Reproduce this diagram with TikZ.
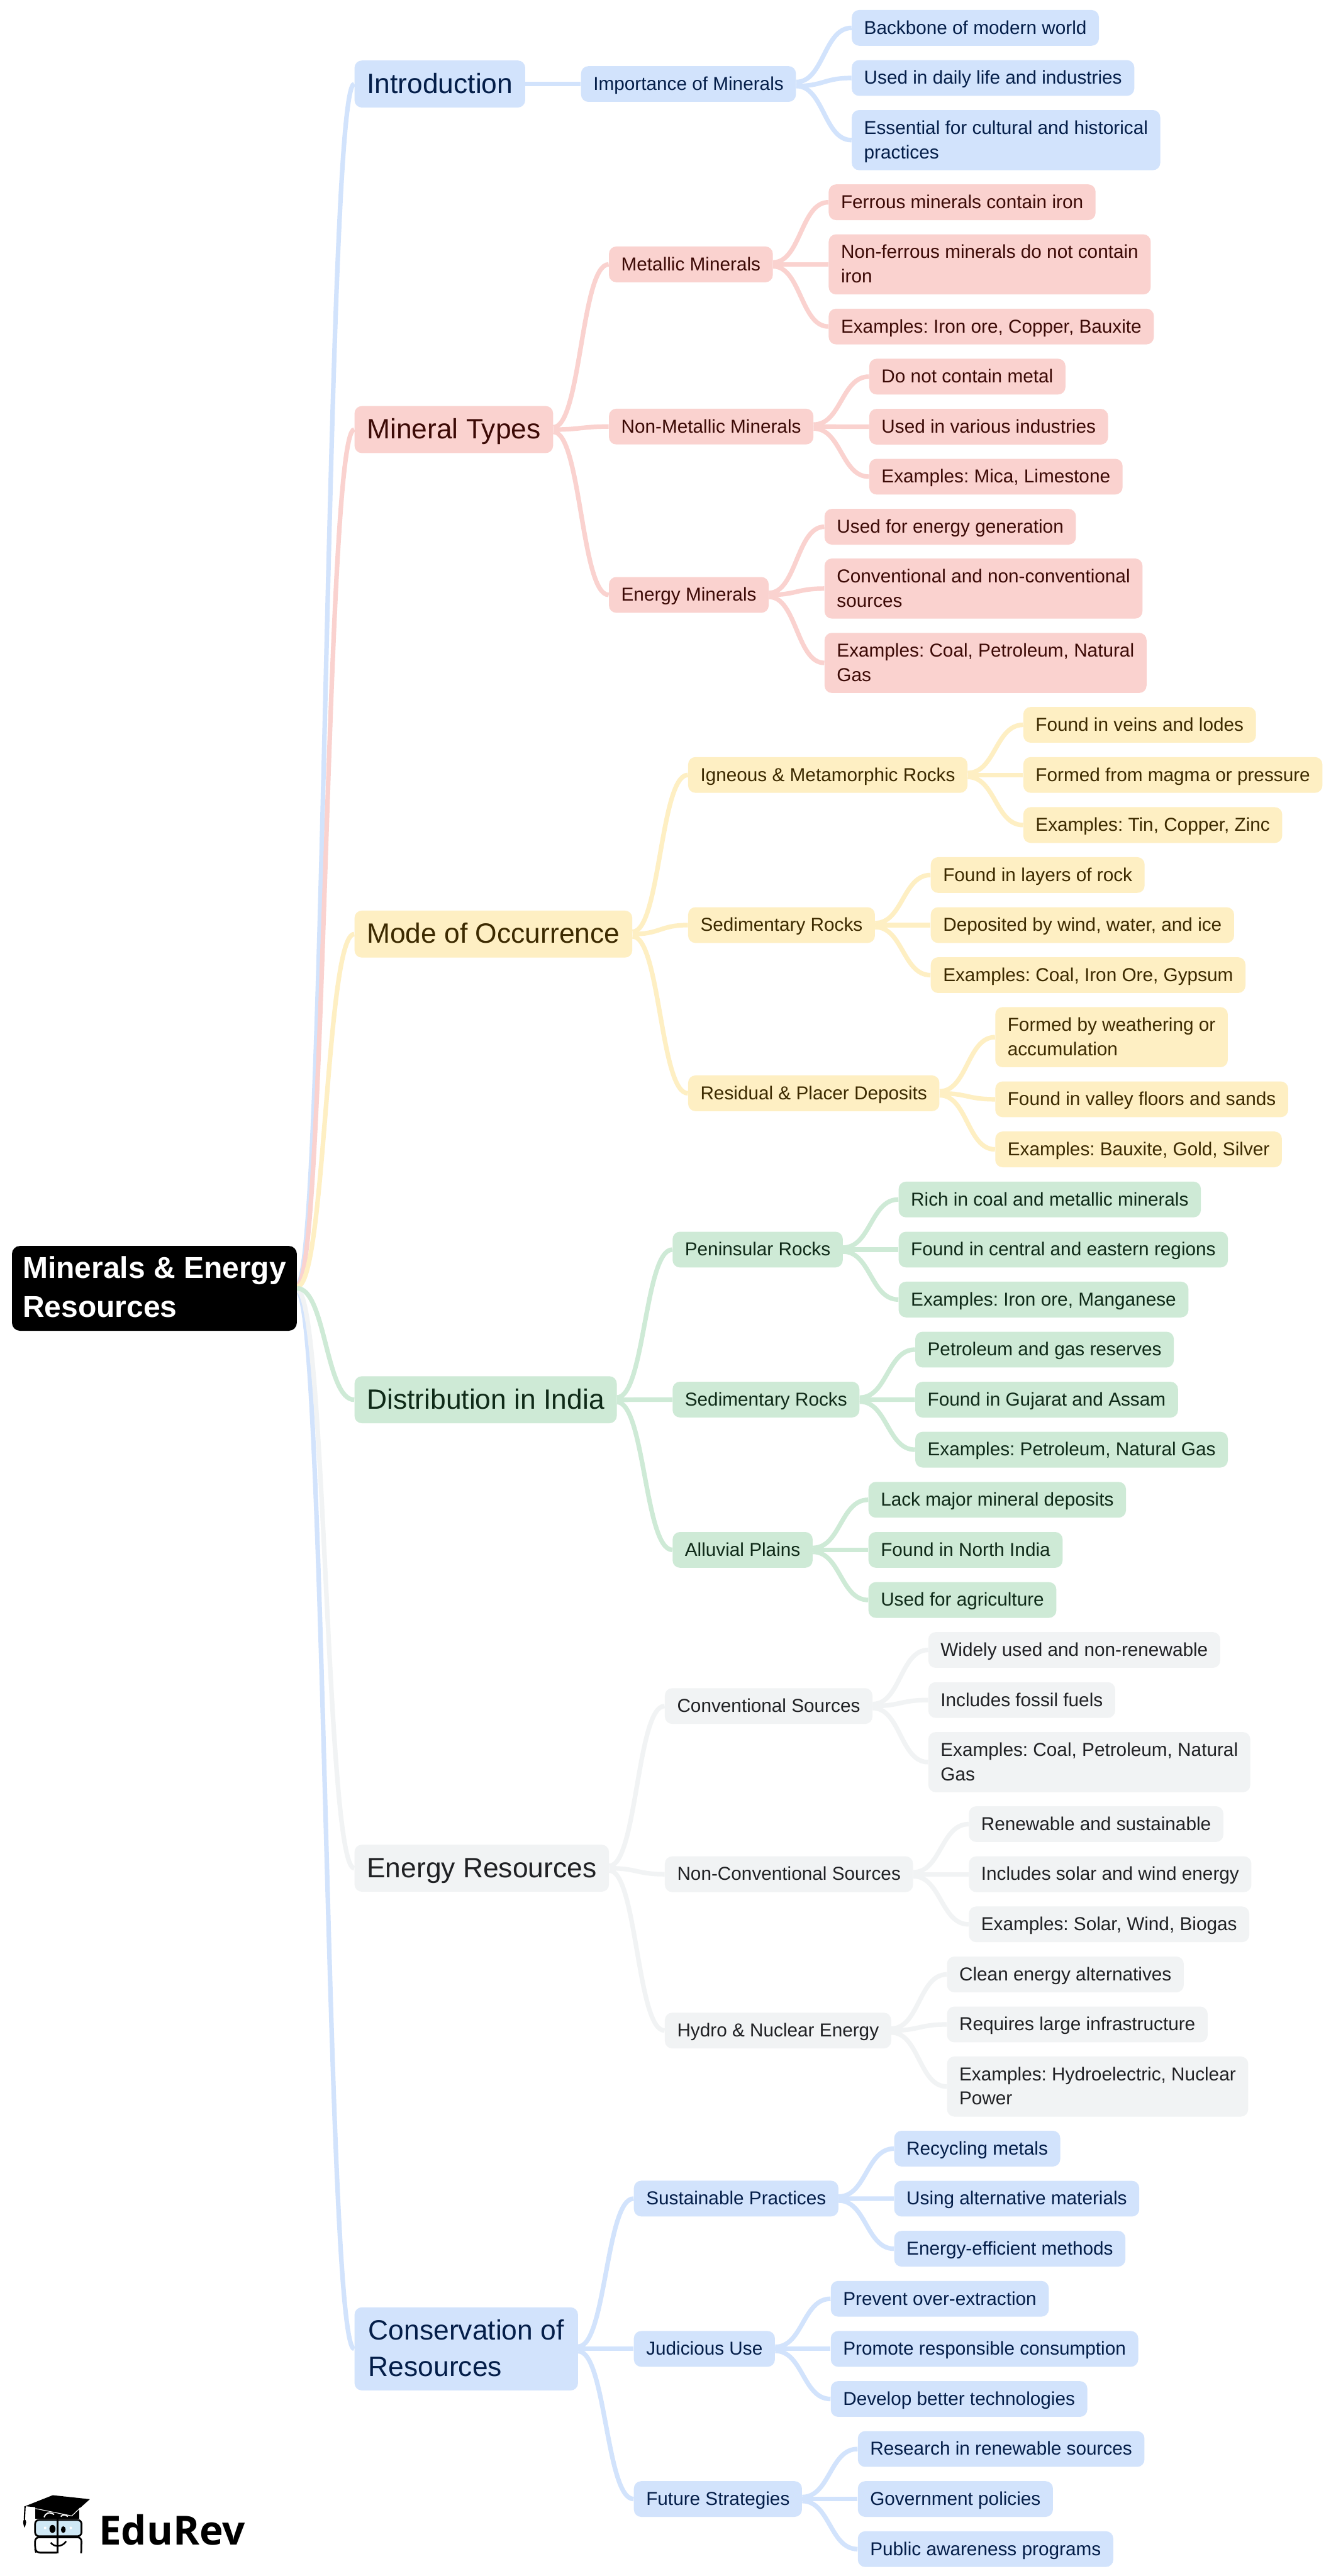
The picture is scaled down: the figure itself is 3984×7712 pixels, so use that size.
\documentclass[tikz,border=0pt]{standalone}
\usepackage{fontspec}
\setmainfont{Liberation Sans}
\newfontfamily\logofont{Open Sans}
\usetikzlibrary{calc,backgrounds}
\frenchspacing
\definecolor{fblue}{HTML}{D2E3FC}\definecolor{tblue}{HTML}{041E49}
\definecolor{fred}{HTML}{FAD2CF}\definecolor{tred}{HTML}{3C0A06}
\definecolor{fyellow}{HTML}{FEEFC3}\definecolor{tyellow}{HTML}{3C2A00}
\definecolor{fgreen}{HTML}{CEEAD6}\definecolor{tgreen}{HTML}{0F2A18}
\definecolor{fgrey}{HTML}{F1F3F4}\definecolor{tgrey}{HTML}{202124}
\definecolor{lens}{HTML}{CFE8F5}
\newcommand{\sS}{\rule[-4.5pt]{0pt}{18.25pt}}
\newcommand{\sT}{\rule[-6.6pt]{0pt}{27pt}}
\newcommand{\sR}{\rule[-7.4pt]{0pt}{29.25pt}}
\tikzset{
  nodebox/.style={rectangle,rounded corners=5.5pt,align=left,anchor=west},
  smallbox/.style={nodebox,inner xsep=9.2pt,inner ysep=4.25pt,font=\fontsize{14}{18.25}\selectfont\frenchspacing},
  topicbox/.style={nodebox,inner xsep=9.25pt,inner ysep=4.1pt,font=\fontsize{20.9}{27}\selectfont\frenchspacing},
  widetopic/.style={topicbox,minimum width=167.25pt},
  rootbox/.style={nodebox,rounded corners=6pt,fill=black,text=white,inner xsep=8pt,inner ysep=2.5pt,font=\fontsize{22.6}{29.25}\selectfont\bfseries\frenchspacing},
  branch/.style={line width=3.4pt}
}
\newcommand{\gapx}{41.4pt}
% style, colour, name, parent, y, start offset, text
\newcommand{\kid}[7]{%
  \path (#4.east) ++(\gapx,0) coordinate (tx-#3);
  \path (0,#5) coordinate (ty-#3);
  \node[#1,fill=f#2,text=t#2] (#3) at (tx-#3 |- ty-#3) {#7};
  \begin{pgfonlayer}{background}
  \draw[branch,draw=f#2] let \p1=(#4.east), \p2=(#3.west) in
    (\x1,{\y1-(#6)*0.25pt}) .. controls ({(\x1+\x2)/2},{\y1-(#6)*0.25pt}) and ({(\x1+\x2)/2},\y2) .. (\x2,\y2);
  \end{pgfonlayer}%
}
\newcommand{\leafnd}[6]{\kid{smallbox}{#1}{#2}{#3}{#4}{#5}{\sS #6}}
\begin{document}
\begin{tikzpicture}[x=0.25pt,y=-0.25pt]
\useasboundingbox (0,0) rectangle (3984,7712);
\begin{pgfonlayer}{background}
\fill[white] (0,0) rectangle (3984,7712);
\end{pgfonlayer}
\node[rootbox] (root) at (35,3857) {\sR Minerals \& Energy\\\sR Resources};
\renewcommand{\gapx}{42.75pt}
\kid{topicbox}{blue}{intro}{root}{251.5}{-12}{\sT Introduction}
\kid{topicbox}{red}{mintypes}{root}{1286}{-9}{\sT Mineral Types}
\kid{topicbox}{yellow}{mode}{root}{2796.5}{-5}{\sT Mode of Occurrence}
\kid{widetopic}{blue}{cons}{root}{7032}{9}{\sT Conservation of\\\sT Resources}
\kid{topicbox}{grey}{energy}{root}{5593}{6}{\sT Energy Resources}
\kid{topicbox}{green}{dist}{root}{4190.5}{0}{\sT Distribution in India}
\renewcommand{\gapx}{41.4pt}
% Introduction
\leafnd{blue}{imp}{intro}{251.5}{0}{Importance of Minerals}
\leafnd{blue}{a1}{imp}{83.5}{-6}{Backbone of modern world}
\leafnd{blue}{a2}{imp}{233.5}{6}{Used in daily life and industries}
\leafnd{blue}{a3}{imp}{419.5}{6}{Essential for cultural and historical\\\sS practices}
% Mineral Types
\leafnd{red}{met}{mintypes}{791.5}{-7}{Metallic Minerals}
\leafnd{red}{nonmet}{mintypes}{1277}{0}{Non-Metallic Minerals}
\leafnd{red}{enmin}{mintypes}{1781}{7}{Energy Minerals}
\leafnd{red}{b1}{met}{605.5}{-6}{Ferrous minerals contain iron}
\leafnd{red}{b2}{met}{791.5}{0}{Non-ferrous minerals do not contain\\\sS iron}
\leafnd{red}{b3}{met}{977.5}{6}{Examples: Iron ore, Copper, Bauxite}
\leafnd{red}{c1}{nonmet}{1127.5}{-6}{Do not contain metal}
\leafnd{red}{c2}{nonmet}{1277.5}{0}{Used in various industries}
\leafnd{red}{c3}{nonmet}{1427}{6}{Examples: Mica, Limestone}
\leafnd{red}{d1}{enmin}{1577}{-6}{Used for energy generation}
\leafnd{red}{d2}{enmin}{1762}{0}{Conventional and non-conventional\\\sS sources}
\leafnd{red}{d3}{enmin}{1984.6}{6}{Examples: Coal, Petroleum, Natural\\\sS Gas}
% Mode of Occurrence
\leafnd{yellow}{ign}{mode}{2320}{-7}{Igneous \& Metamorphic Rocks}
\leafnd{yellow}{sedr}{mode}{2769.5}{0}{Sedimentary Rocks}
\leafnd{yellow}{resid}{mode}{3273}{7}{Residual \& Placer Deposits}
\leafnd{yellow}{e1}{ign}{2170}{-6}{Found in veins and lodes}
\leafnd{yellow}{e2}{ign}{2320}{0}{Formed from magma or pressure}
\leafnd{yellow}{e3}{ign}{2470}{6}{Examples: Tin, Copper, Zinc}
\leafnd{yellow}{f1}{sedr}{2619.6}{-6}{Found in layers of rock}
\leafnd{yellow}{f2}{sedr}{2769.5}{0}{Deposited by wind, water, and ice}
\leafnd{yellow}{f3}{sedr}{2919.3}{6}{Examples: Coal, Iron Ore, Gypsum}
\leafnd{yellow}{g1}{resid}{3105}{-6}{Formed by weathering or\\\sS accumulation}
\leafnd{yellow}{g2}{resid}{3291}{0}{Found in valley floors and sands}
\leafnd{yellow}{g3}{resid}{3441}{6}{Examples: Bauxite, Gold, Silver}
% Distribution in India
\leafnd{green}{pen}{dist}{3741}{-7}{Peninsular Rocks}
\leafnd{green}{sedi}{dist}{4190}{0}{Sedimentary Rocks}
\leafnd{green}{allu}{dist}{4640}{7}{Alluvial Plains}
\leafnd{green}{h1}{pen}{3591}{-6}{Rich in coal and metallic minerals}
\leafnd{green}{h2}{pen}{3741}{0}{Found in central and eastern regions}
\leafnd{green}{h3}{pen}{3890.5}{6}{Examples: Iron ore, Manganese}
\leafnd{green}{i1}{sedi}{4040.4}{-6}{Petroleum and gas reserves}
\leafnd{green}{i2}{sedi}{4190.3}{0}{Found in Gujarat and Assam}
\leafnd{green}{i3}{sedi}{4340}{6}{Examples: Petroleum, Natural Gas}
\leafnd{green}{j1}{allu}{4490}{-6}{Lack major mineral deposits}
\leafnd{green}{j2}{allu}{4640}{0}{Found in North India}
\leafnd{green}{j3}{allu}{4790}{6}{Used for agriculture}
% Energy Resources
\leafnd{grey}{conv}{energy}{5107.5}{-7}{Conventional Sources}
\leafnd{grey}{nconv}{energy}{5611}{0}{Non-Conventional Sources}
\leafnd{grey}{hydro}{energy}{6079}{7}{Hydro \& Nuclear Energy}
\leafnd{grey}{k1}{conv}{4939.6}{-6}{Widely used and non-renewable}
\leafnd{grey}{k2}{conv}{5089.5}{0}{Includes fossil fuels}
\leafnd{grey}{k3}{conv}{5275.4}{6}{Examples: Coal, Petroleum, Natural\\\sS Gas}
\leafnd{grey}{l1}{nconv}{5461}{-6}{Renewable and sustainable}
\leafnd{grey}{l2}{nconv}{5611}{0}{Includes solar and wind energy}
\leafnd{grey}{l3}{nconv}{5761}{6}{Examples: Solar, Wind, Biogas}
\leafnd{grey}{m1}{hydro}{5911}{-6}{Clean energy alternatives}
\leafnd{grey}{m2}{hydro}{6060.7}{0}{Requires large infrastructure}
\leafnd{grey}{m3}{hydro}{6246.6}{6}{Examples: Hydroelectric, Nuclear\\\sS Power}
% Conservation
\leafnd{blue}{sust}{cons}{6582}{-7}{Sustainable Practices}
\leafnd{blue}{jud}{cons}{7032}{0}{Judicious Use}
\leafnd{blue}{fut}{cons}{7481.5}{7}{Future Strategies}
\leafnd{blue}{n1}{sust}{6432.5}{-6}{Recycling metals}
\leafnd{blue}{n2}{sust}{6582.3}{0}{Using alternative materials}
\leafnd{blue}{n3}{sust}{6732.2}{6}{Energy-efficient methods}
\leafnd{blue}{o1}{jud}{6882}{-6}{Prevent over-extraction}
\leafnd{blue}{o2}{jud}{7032}{0}{Promote responsible consumption}
\leafnd{blue}{o3}{jud}{7182}{6}{Develop better technologies}
\leafnd{blue}{p1}{fut}{7331.7}{-6}{Research in renewable sources}
\leafnd{blue}{p2}{fut}{7481.5}{0}{Government policies}
\leafnd{blue}{p3}{fut}{7631.4}{6}{Public awareness programs}
% EduRev logo
\node[anchor=base west,inner sep=0pt,font=\logofont\bfseries\fontsize{30}{30}\selectfont] (logotext) at (295,7618) {EduRev};
\fill[black] (106,7505) -- (238,7505) -- (238,7540) -- (106,7540) -- cycle;
\fill[black] (75,7503) -- (158,7470) -- (269,7482) -- (215,7530) -- (150,7510) -- cycle;
\draw[white,line width=0.5pt] (106,7510) -- (215,7532) -- (240,7508);
\draw[black,line width=1pt] (75,7503) -- (73,7542);
\fill[black] (73,7541) .. controls (68,7548) and (68,7552) .. (73.5,7568) .. controls (79,7552) and (81,7548) .. (73,7541) -- cycle;
\draw[white,line width=0.9pt] (132,7536) .. controls (135,7524) and (148,7518) .. (162,7528);
\draw[white,line width=0.9pt] (182,7534) .. controls (188,7526) and (196,7528) .. (203,7534);
\draw[black,fill=lens,line width=1.3pt,rounded corners=3pt] (105,7544) rectangle (244,7593);
\draw[black,line width=1.3pt,rounded corners=3pt] (170,7642) -- (108,7642) -- (105,7630) -- (105,7596) -- (244,7596) -- (243,7644);
\draw[black,line width=1.4pt] (173,7540) -- (173,7645);
\fill[black] (157,7571) ellipse [x radius=9,y radius=12];
\fill[black] (189.5,7573) ellipse [x radius=7,y radius=10];
\fill[white] (135,7568) circle [radius=4];
\fill[white] (212,7568) circle [radius=4];
\draw[black,line width=1.2pt] (152,7612) .. controls (162,7626) and (186,7626) .. (198,7608);
\end{tikzpicture}
\end{document}
